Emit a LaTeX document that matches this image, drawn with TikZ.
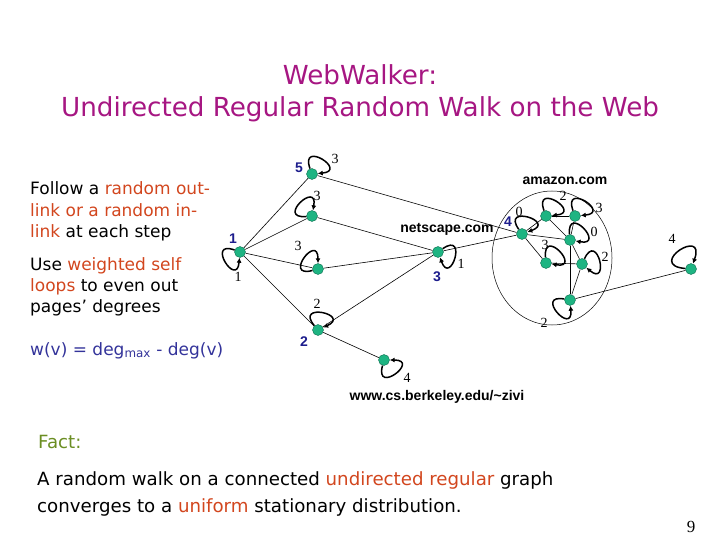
\documentclass[tikz,border=0pt]{standalone}
\usepackage{fontspec}
\setmainfont{DejaVu Sans}
\newfontfamily\lblfont{Liberation Sans}
\newfontfamily\numfont{Liberation Serif}
\newfontfamily\pgfont{Liberation Serif}
\usetikzlibrary{arrows.meta}
\definecolor{ttl}{RGB}{166,22,130}
\definecolor{hl}{RGB}{210,70,30}
\definecolor{frm}{RGB}{51,51,154}
\definecolor{blu}{RGB}{28,28,140}
\definecolor{fct}{RGB}{107,142,35}
\definecolor{nfill}{RGB}{30,180,130}
\definecolor{nline}{RGB}{14,110,80}
\tikzset{
  pg/.style={circle,fill=nfill,draw=nline,line width=0.4pt,inner sep=0pt,minimum size=11pt},
  lnk/.style={line width=0.6pt,black},
  selfloop/.style={-{Latex[length=5pt,width=5pt]},line width=1.5pt,black},
  wt/.style={font=\numfont\fontsize{14}{14}\selectfont,inner sep=0pt},
  bl/.style={font=\lblfont\bfseries\fontsize{14}{14}\selectfont,text=blu,inner sep=0pt},
  site/.style={font=\lblfont\bfseries\fontsize{14}{14}\selectfont,inner sep=0pt},
  txt/.style={anchor=base west,inner sep=0pt,font=\fontsize{17}{19}\selectfont},
  ftxt/.style={anchor=base west,inner sep=0pt,font=\fontsize{18.2}{21}\selectfont}
}
\newcommand{\pgloop}[4][31]{\draw[selfloop] (#2.#3) .. controls +(canvas polar cs:angle=#3,radius=#1pt) and +(canvas polar cs:angle=#4,radius=#1pt) .. (#2.#4);}
\begin{document}
\begin{tikzpicture}[x=1pt,y=-1pt]
\useasboundingbox (0,0) rectangle (720,540);
% title
\node[anchor=base,inner sep=0pt,text=ttl,font=\fontsize{26.2}{30}\selectfont] (t1) at (360,85) {WebWalker:};
\node[anchor=base,inner sep=0pt,text=ttl,font=\fontsize{26.2}{30}\selectfont] (t2) at (360,117) {Undirected Regular Random Walk on the Web};
% left text
\node[txt] (l1) at (30,195) {Follow a \textcolor{hl}{random out-}};
\node[txt] (l2) at (30,216) {\textcolor{hl}{link or a random in-}};
\node[txt] (l3) at (30,237) {\textcolor{hl}{link} at each step};
\node[txt] (l4) at (30,270) {Use \textcolor{hl}{weighted self}};
\node[txt] (l5) at (30,291) {\textcolor{hl}{loops} to even out};
\node[txt] (l6) at (30,312) {pages' degrees};
\node[txt,text=frm] (l7) at (30,355) {w(v) = deg\textsubscript{max} - deg(v)};
% fact
\node[ftxt,text=fct] (f0) at (38,448) {Fact:};
\node[ftxt] (f1) at (37,485) {A random walk on a connected \textcolor{hl}{undirected regular} graph};
\node[ftxt] (f2) at (37,512) {converges to a \textcolor{hl}{uniform} stationary distribution.};
\node[anchor=base,inner sep=0pt,font=\pgfont\fontsize{17}{20}\selectfont] (pn) at (691,532) {9};
% graph nodes
\node[pg] (L) at (240,252) {};
\node[pg] (A) at (312,174) {};
\node[pg] (B) at (312,216) {};
\node[pg] (C) at (318,269) {};
\node[pg] (D) at (318,330) {};
\node[pg] (N) at (438,252) {};
\node[pg] (E) at (384,360) {};
\node[pg] (F) at (522,234) {};
\node[pg] (G) at (546,216) {};
\node[pg] (H) at (575,216) {};
\node[pg] (I) at (570,240) {};
\node[pg] (J) at (546,263) {};
\node[pg] (K) at (582,264) {};
\node[pg] (M) at (570,300) {};
\node[pg] (P) at (691,269) {};
% amazon ellipse
\draw[line width=0.5pt] (552,258) ellipse [x radius=60,y radius=67];
% site labels
\node[site] (ama) at (565,181) {amazon.com};
\node[site] (net) at (447,229) {netscape.com};
\node[site] (ber) at (437,397) {www.cs.berkeley.edu/\textasciitilde zivi};
% edges
\draw[lnk] (L) -- (A);
\draw[lnk] (L) -- (B);
\draw[lnk] (L) -- (C);
\draw[lnk] (L) -- (D);
\draw[lnk] (A) -- (F);
\draw[lnk] (B) -- (N);
\draw[lnk] (C) -- (N);
\draw[lnk] (D) -- (N);
\draw[lnk] (D) -- (E);
\draw[lnk] (N) -- (F);
\draw[lnk] (F) -- (G);
\draw[lnk] (F) -- (I);
\draw[lnk] (F) -- (J);
\draw[lnk] (G) -- (H);
\draw[lnk] (G) -- (I);
\draw[lnk] (H) -- (I);
\draw[lnk] (I) -- (M);
\draw[lnk] (I) -- (K);
\draw[lnk] (K) -- (J);
\draw[lnk] (K) -- (M);
\draw[lnk] (M) -- (P);
% self loops
\pgloop{A}{110}{5}
\pgloop{B}{185}{80}
\pgloop{L}{160}{265}
\pgloop{C}{195}{90}
\pgloop{N}{35}{290}
\pgloop{D}{130}{25}
\pgloop{E}{255}{0}
\pgloop{F}{125}{20}
\pgloop{G}{110}{5}
\pgloop{H}{110}{5}
\pgloop{I}{95}{-10}
\pgloop{J}{95}{-10}
\pgloop{K}{65}{-40}
\pgloop{M}{170}{275}
\pgloop[40]{P}{175}{70}
% loop weights
\node[wt] (wA) at (335,159) {3};
\node[wt] (wB) at (317,196) {3};
\node[wt] (wL) at (238,277) {1};
\node[wt] (wC) at (298,246) {3};
\node[wt] (wN) at (461,264) {1};
\node[wt] (wD) at (317,304) {2};
\node[wt] (wE) at (407,378) {4};
\node[wt] (wF) at (519,212) {0};
\node[wt] (wG) at (563,196) {2};
\node[wt] (wH) at (599,208) {3};
\node[wt] (wI) at (594,232) {0};
\node[wt] (wJ) at (545,245) {3};
\node[wt] (wK) at (605,257) {2};
\node[wt] (wM) at (544,323) {2};
\node[wt] (wP) at (672,239) {4};
% visit labels
\node[bl] (bA) at (299,168) {5};
\node[bl] (bL) at (233,239) {1};
\node[bl] (bN) at (437,277) {3};
\node[bl] (bD) at (304,342) {2};
\node[bl] (bF) at (508,222) {4};
\end{tikzpicture}
\end{document}
